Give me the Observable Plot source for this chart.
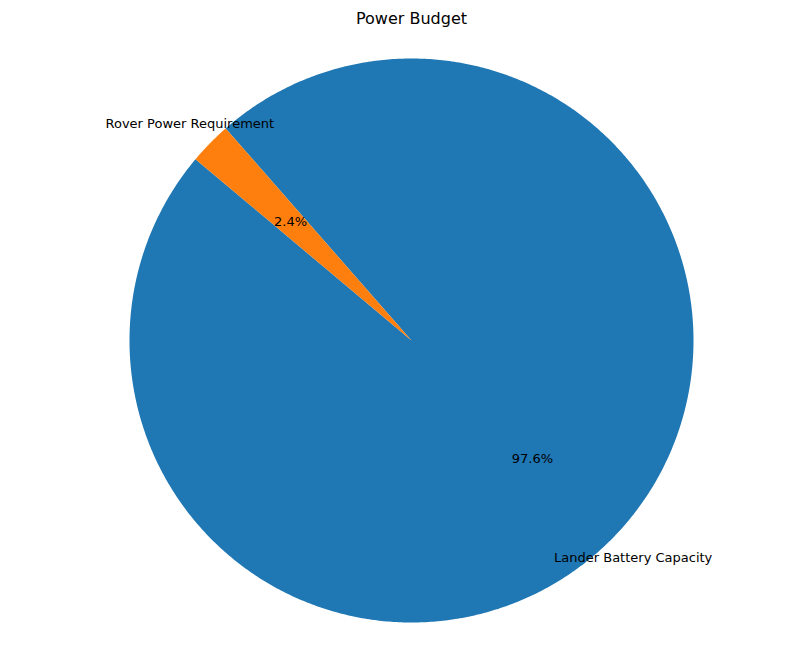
<!DOCTYPE html>
<html>
<head>
<meta charset="utf-8">
<script src="https://cdn.jsdelivr.net/npm/d3@7"></script>
<script src="https://cdn.jsdelivr.net/npm/@observablehq/plot@0.6"></script>
<style>body{margin:0;background:#fff;font-family:"DejaVu Sans",sans-serif}</style>
</head>
<body>
<div id="chart"></div>
<script>
// datos del gráfico
const categorias = ['Lander Battery Capacity', 'Rover Power Requirement']
const valores = [1000, 25]
const colores = ['#1f77b4', '#ff7f0e']
const titulo = 'Power Budget'

const W = 812, H = 658, cx = 411, cy = 340, R = 282
const startAngle = 140 // grados, antihorario como matplotlib

const total = d3.sum(valores)
let a0 = startAngle
const slices = categorias.map((c, i) => {
  const span = valores[i] / total * 360
  const s = { categoria: c, valor: valores[i], a0, a1: a0 + span, color: colores[i] }
  a0 += span
  return s
})

// puntos de cada porción (unidades de radio)
const rad = d => d * Math.PI / 180
const puntos = []
slices.forEach(s => {
  puntos.push({ categoria: s.categoria, x: 0, y: 0 })
  const n = Math.ceil((s.a1 - s.a0) / 0.5)
  for (let k = 0; k <= n; k++) {
    const a = rad(s.a0 + (s.a1 - s.a0) * k / n)
    puntos.push({ categoria: s.categoria, x: Math.cos(a), y: Math.sin(a) })
  }
})

const etiquetas = slices.map(s => {
  const m = rad((s.a0 + s.a1) / 2)
  return {
    categoria: s.categoria,
    pct: d3.format('.1f')(s.valor / total * 100) + '%',
    lx: 1.1 * Math.cos(m), ly: 1.1 * Math.sin(m),
    px: 0.6 * Math.cos(m), py: 0.6 * Math.sin(m),
    anchor: Math.cos(m) < 0 ? 'end' : 'start'
  }
})

const chart = Plot.plot({
  width: W,
  height: H,
  margin: 0,
  x: { domain: [-cx / R, (W - cx) / R], range: [0, W], axis: null },
  y: { domain: [-(H - cy) / R, cy / R], range: [H, 0], axis: null },
  style: { fontFamily: '"DejaVu Sans", sans-serif' },
  marks: [
    Plot.line(puntos, {
      x: 'x', y: 'y', z: 'categoria',
      fill: d => colores[categorias.indexOf(d.categoria)],
      stroke: 'none'
    }),
    Plot.text(etiquetas, {
      x: 'lx', y: 'ly', text: 'categoria',
      textAnchor: d => d.anchor, fontSize: 13, fill: 'black'
    }),
    Plot.text(etiquetas, {
      x: 'px', y: 'py', text: 'pct', fontSize: 13, fill: 'black'
    }),
    Plot.text([titulo], {
      x: 0, y: (cy - 18) / R, text: d => d, fontSize: 16, fill: 'black'
    })
  ]
})
d3.select('#chart').append(() => chart)
</script>
</body>
</html>
